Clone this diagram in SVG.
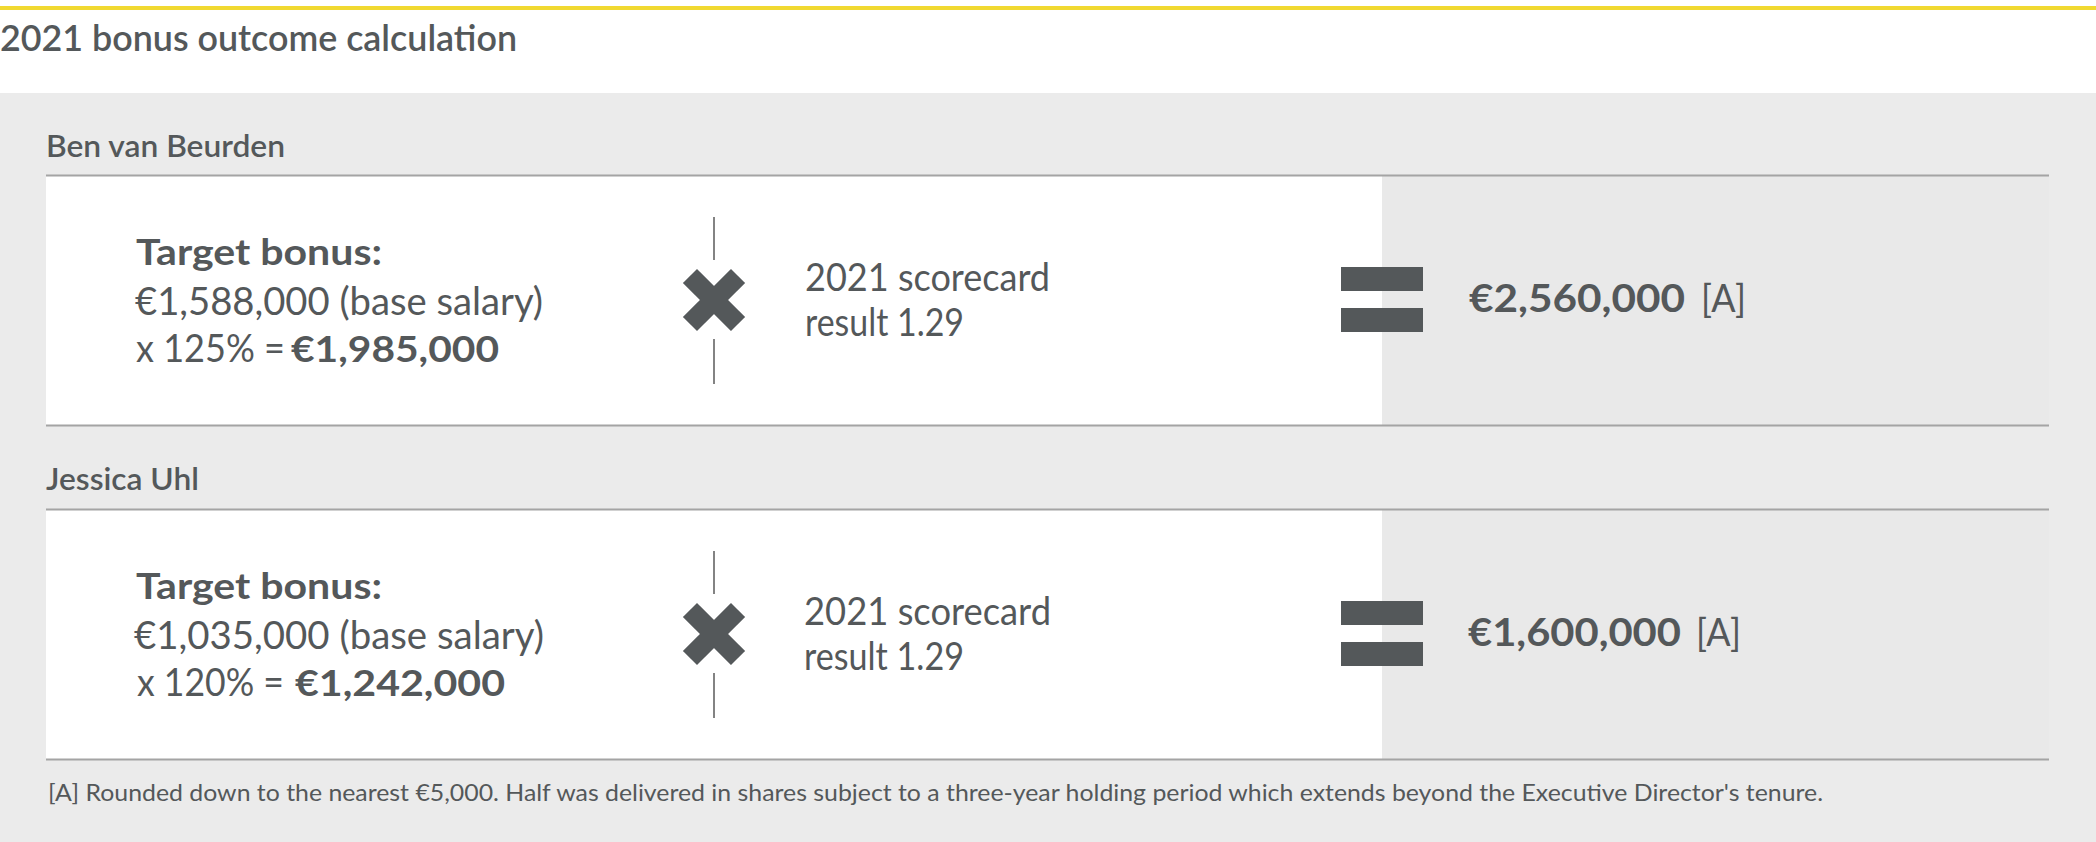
<svg xmlns="http://www.w3.org/2000/svg" width="2096" height="842" viewBox="0 0 2096 842">
<style>
text{font-family:Lato,"Liberation Sans",sans-serif;fill:#54585a}
.t{font-size:36px;font-weight:600}
.n{font-size:30px;font-weight:600}
.b{font-size:37px;font-weight:700}
.l{font-size:38px;font-weight:400}
.r{font-size:38px;font-weight:700}
.f{font-size:24px;font-weight:400}
.rule{stroke:#a4a4a4;stroke-width:2}
.div{stroke:#5a5a5a;stroke-width:1.5}
.mark{fill:#54585a}
.box{fill:#ffffff}
.side{fill:#e9e9e9}
</style>
<defs>
<g id="times">
<rect x="-34" y="-10" width="68" height="20" class="mark" transform="rotate(45)"/>
<rect x="-34" y="-10" width="68" height="20" class="mark" transform="rotate(-45)"/>
</g>
<g id="equals">
<rect x="0" y="0" width="82" height="24" class="mark"/>
<rect x="0" y="41" width="82" height="24" class="mark"/>
</g>
</defs>
<rect x="0" y="0" width="2096" height="842" fill="#ffffff"/>
<rect x="0" y="6" width="2096" height="4" fill="#f1d931"/>
<text class="t" x="0" y="51" textLength="517" lengthAdjust="spacingAndGlyphs">2021 bonus outcome calculation</text>
<rect x="0" y="93" width="2096" height="749" fill="#ebebeb"/>

<g id="ben">
<text class="n" x="46" y="157" textLength="239" lengthAdjust="spacingAndGlyphs">Ben van Beurden</text>
<rect x="46" y="176" width="1336" height="249" class="box"/>
<rect x="1382" y="176" width="667" height="249" class="side"/>
<line x1="46" y1="175.5" x2="2049" y2="175.5" class="rule"/>
<line x1="46" y1="425.5" x2="2049" y2="425.5" class="rule"/>
<g id="ben-target">
<text class="b" x="136" y="265" textLength="246" lengthAdjust="spacingAndGlyphs">Target bonus:</text>
<text class="l" x="135" y="315" textLength="408" lengthAdjust="spacingAndGlyphs">€1,588,000 (base salary)</text>
<text class="l" x="136" y="362" textLength="149" lengthAdjust="spacingAndGlyphs">x 125% =</text>
<text class="b" x="291" y="362" textLength="208" lengthAdjust="spacingAndGlyphs">€1,985,000</text>
</g>
<g id="ben-times"><use href="#times" x="714" y="300"/></g>
<g id="ben-scorecard">
<text class="l" x="805" y="291" textLength="245" lengthAdjust="spacingAndGlyphs">2021 scorecard</text>
<text class="l" x="805" y="336" textLength="159" lengthAdjust="spacingAndGlyphs">result 1.29</text>
</g>
<g id="ben-equals"><use href="#equals" x="1341" y="267"/></g>
<g id="ben-result">
<text class="r" x="1469" y="312" textLength="216" lengthAdjust="spacingAndGlyphs">€2,560,000</text>
<text class="l" x="1701" y="312" textLength="45" lengthAdjust="spacingAndGlyphs">[A]</text>
</g>
</g>

<g id="jessica">
<text class="n" x="46" y="490" textLength="153" lengthAdjust="spacingAndGlyphs">Jessica Uhl</text>
<rect x="46" y="510" width="1336" height="249" class="box"/>
<rect x="1382" y="510" width="667" height="249" class="side"/>
<line x1="46" y1="509.5" x2="2049" y2="509.5" class="rule"/>
<line x1="46" y1="759.5" x2="2049" y2="759.5" class="rule"/>
<g id="jessica-target">
<text class="b" x="136" y="599" textLength="246" lengthAdjust="spacingAndGlyphs">Target bonus:</text>
<text class="l" x="134" y="649" textLength="410" lengthAdjust="spacingAndGlyphs">€1,035,000 (base salary)</text>
<text class="l" x="137" y="696" textLength="147" lengthAdjust="spacingAndGlyphs">x 120% =</text>
<text class="b" x="295" y="696" textLength="210" lengthAdjust="spacingAndGlyphs">€1,242,000</text>
</g>
<g id="jessica-times"><use href="#times" x="714" y="634"/></g>
<g id="jessica-scorecard">
<text class="l" x="804" y="625" textLength="247" lengthAdjust="spacingAndGlyphs">2021 scorecard</text>
<text class="l" x="804" y="670" textLength="160" lengthAdjust="spacingAndGlyphs">result 1.29</text>
</g>
<g id="jessica-equals"><use href="#equals" x="1341" y="601"/></g>
<g id="jessica-result">
<text class="r" x="1468" y="646" textLength="213" lengthAdjust="spacingAndGlyphs">€1,600,000</text>
<text class="l" x="1696" y="646" textLength="45" lengthAdjust="spacingAndGlyphs">[A]</text>
</g>
</g>

<g id="connectors">
<line x1="714" y1="217" x2="714" y2="260" class="div"/>
<line x1="714" y1="339" x2="714" y2="384" class="div"/>
<line x1="714" y1="551" x2="714" y2="594" class="div"/>
<line x1="714" y1="673" x2="714" y2="718" class="div"/>
</g>

<g id="footnote">
<text class="f" x="48" y="801" textLength="1775" lengthAdjust="spacingAndGlyphs">[A] Rounded down to the nearest €5,000. Half was delivered in shares subject to a three-year holding period which extends beyond the Executive Director's tenure.</text>
</g>
</svg>
